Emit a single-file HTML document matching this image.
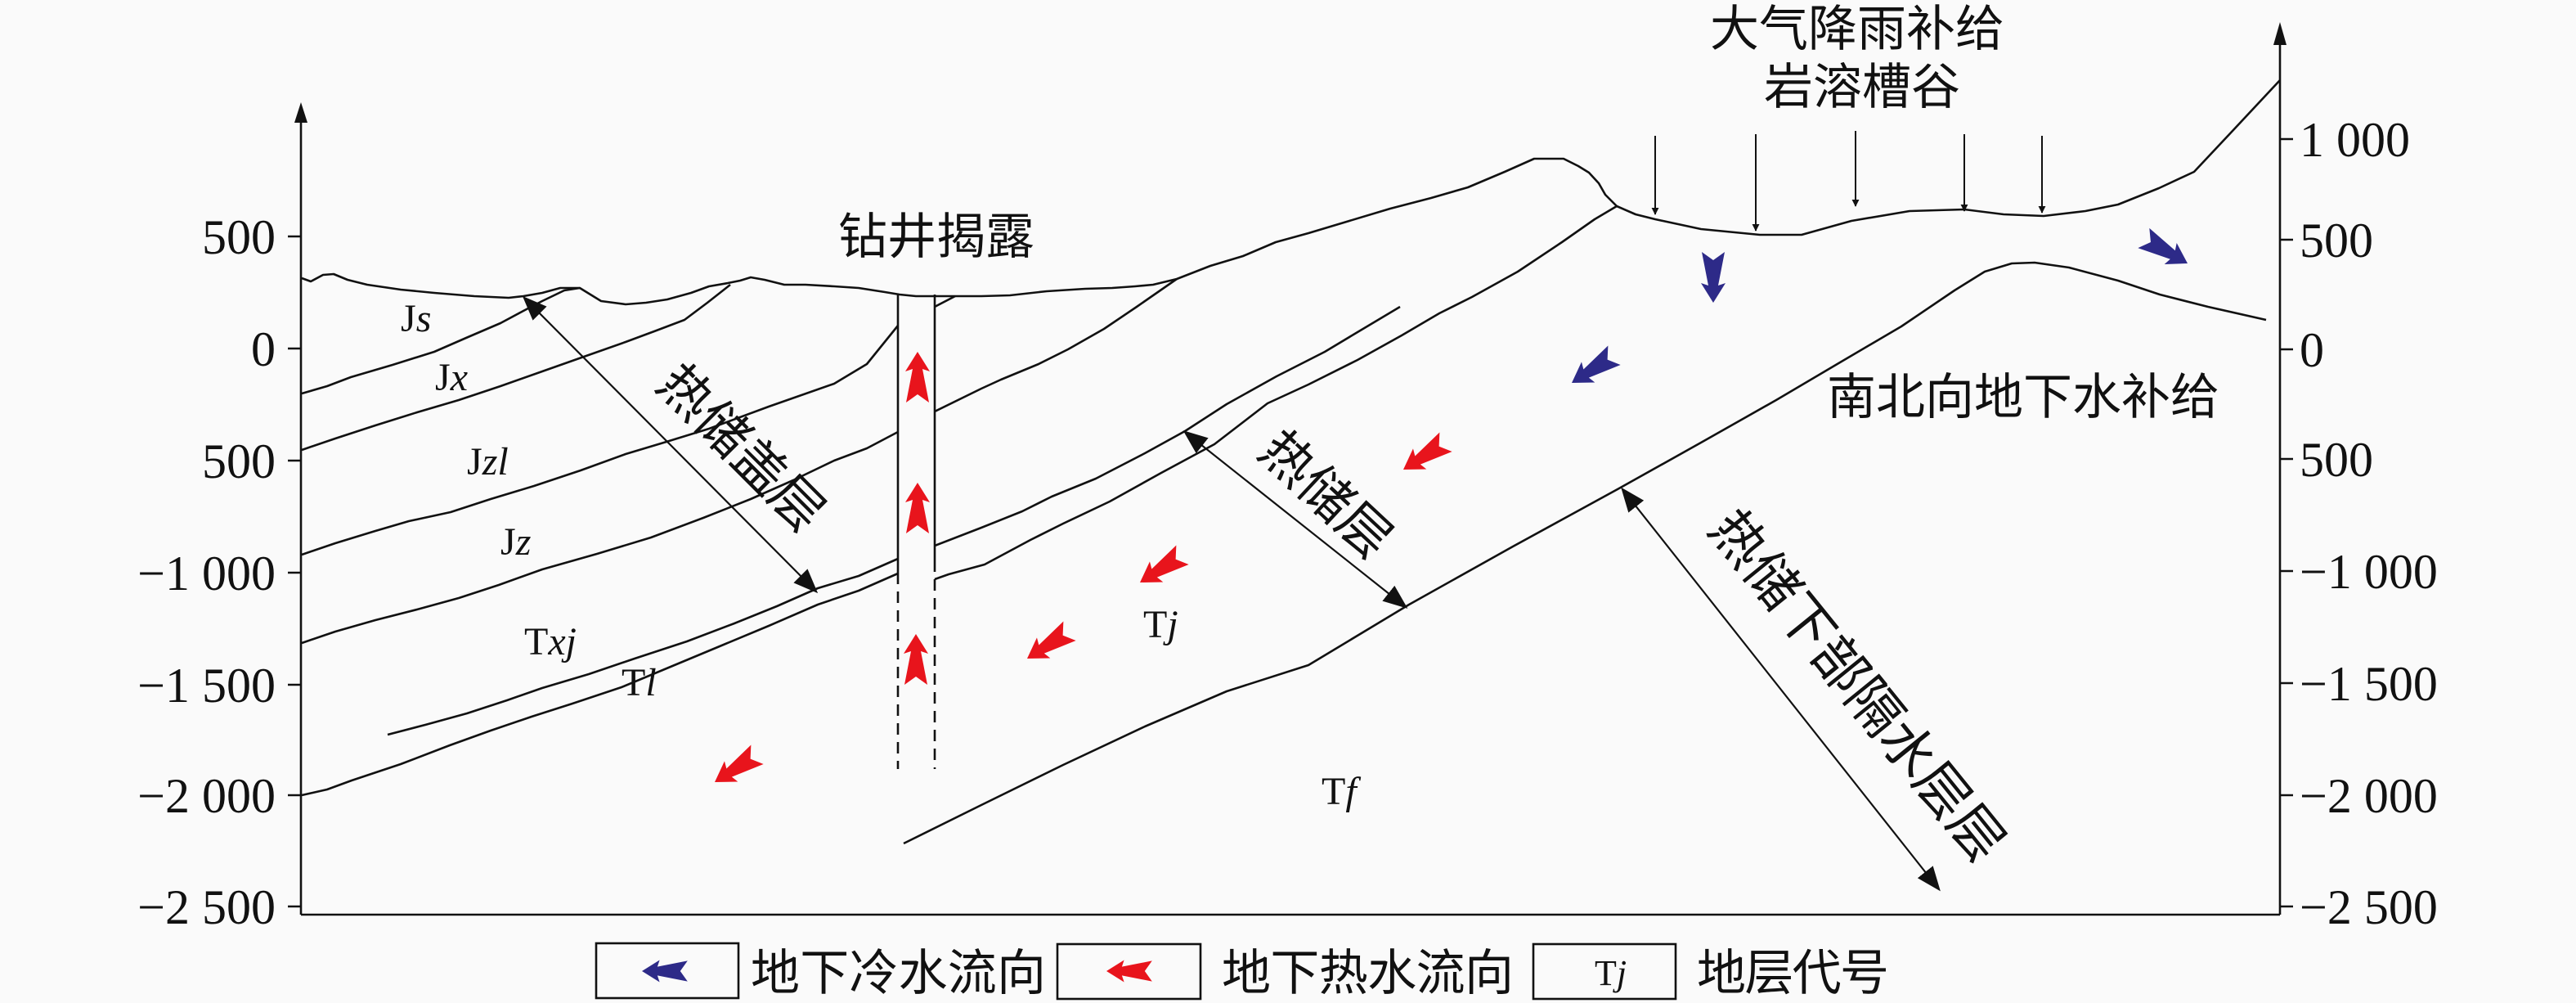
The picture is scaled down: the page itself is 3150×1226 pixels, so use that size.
<!DOCTYPE html>
<html><head><meta charset="utf-8"><style>
html,body{margin:0;padding:0;background:#fafafa;}
svg{display:block;}
.t{font-family:"Liberation Serif","Noto Serif CJK SC",serif;fill:#111;}
.c{font-family:"Liberation Sans","Noto Sans CJK SC",sans-serif;fill:#111;}
</style></head><body>
<svg width="3150" height="1226" viewBox="0 0 3150 1226" xmlns="http://www.w3.org/2000/svg">
<defs>
<marker id="ah" viewBox="0 0 10 10" refX="9" refY="5" markerWidth="9" markerHeight="9" orient="auto-start-reverse" markerUnits="userSpaceOnUse">
<path d="M0,0 L10,5 L0,10 z" fill="#111"/></marker>
<marker id="bh" viewBox="0 0 10 10" refX="9" refY="5" markerWidth="30" markerHeight="30" orient="auto-start-reverse" markerUnits="userSpaceOnUse">
<path d="M0,1 L10,5 L0,9 z" fill="#111"/></marker>
<g id="arr"><polygon points="0,0 24,-15 21,-6 62,-14 52,0 62,14 21,6 24,15"/></g>
</defs>
<rect width="3150" height="1226" fill="#fafafa"/>
<g fill="none" stroke="#111" stroke-width="2.6" stroke-linejoin="round">
<line x1="368" y1="150" x2="368" y2="1118"/>
<polygon points="368,125 360,150 376,150" fill="#111" stroke="none"/>
<line x1="368" y1="1118" x2="2788" y2="1118"/>
<line x1="2788" y1="55" x2="2788" y2="1118"/>
<polygon points="2788,27 2780,55 2796,55" fill="#111" stroke="none"/>
<path d="M352,289H368M352,426H368M352,563H368M352,700H368M352,837H368M352,972H368M352,1108H368"/>
<path d="M2788,170H2804M2788,293H2804M2788,427H2804M2788,561H2804M2788,698H2804M2788,835H2804M2788,972H2804M2788,1108H2804"/>
<!-- topography -->
<polyline points="369,340 380,344 395,336 408,335 425,342 449,348 490,354 531,358 580,362 622,364 640,362 663,358 685,352 709,352 722,360 735,368 765,372 790,370 816,366 845,358 867,350 890,346 905,343 918,339 935,342 959,348 985,348 1020,350 1050,352 1082,357 1100,360 1120,362 1163,362 1200,362 1235,361 1280,356 1327,353 1360,352 1388,350 1410,348 1439,341 1480,325 1520,313 1560,296 1600,285 1650,270 1700,255 1750,242 1795,229 1840,210 1876,194 1912,194 1930,203 1943,211 1955,224 1963,238 1977,252 2000,262 2024,268 2080,280 2152,287 2203,287 2264,270 2335,258 2402,256 2450,262 2499,264 2550,258 2590,250 2640,230 2683,210 2730,160 2788,98"/>
<!-- layer boundaries -->
<polyline points="369,481 400,472 429,461 480,446 531,430 570,413 612,395 640,380 663,368 690,355 709,352"/>
<polyline points="369,550 410,536 459,520 510,504 561,489 612,472 663,454 714,436 765,418 800,405 837,391 865,370 893,348"/>
<path d="M369,678 L410,664 459,649 500,637 551,626 600,610 653,594 710,575 765,555 815,540 867,524 940,497 1020,469 1060,445 1098,398 M1143,375 L1168,362"/>
<path d="M369,786 L410,772 459,758 510,745 561,731 610,715 663,696 730,677 796,657 860,633 918,610 970,587 1020,563 1060,548 1098,528 M1143,503 L1200,475 1224,464 1270,445 1306,427 1350,402 1390,375 1439,341"/>
<path d="M474,898 L520,886 571,872 620,856 663,841 720,824 776,805 840,784 898,762 950,741 1000,719 1050,704 1098,683 M1143,667 L1200,645 1250,625 1286,607 1340,585 1400,554 1449,527 1500,494 1561,460 1620,430 1660,406 1712,375"/>
<path d="M369,972 L400,965 430,954 490,934 550,911 600,893 650,876 700,860 760,840 820,815 880,790 940,765 1000,739 1050,722 1098,701 M1143,708 L1160,702 1204,690 1260,660 1300,640 1357,613 1420,578 1485,543 1550,493 1600,470 1660,440 1714,410 1760,383 1800,363 1856,332 1910,296 1950,268 1977,252"/>
<polyline points="1105,1031 1200,984 1300,935 1400,888 1500,845 1600,813 1723,739 1850,668 1978,598 2080,541 2172,489 2250,443 2325,399 2390,355 2427,332 2460,322 2488,321 2530,327 2590,343 2641,360 2700,375 2771,391"/>
<!-- well -->
<path d="M1098,360V700M1143,360V685"/>
<path d="M1098,700V940M1143,685V940" stroke-dasharray="14,9"/>
<g stroke-width="2" marker-end="url(#ah)">
<line x1="2024" y1="166" x2="2024" y2="262"/>
<line x1="2147" y1="164" x2="2147" y2="282"/>
<line x1="2269" y1="160" x2="2269" y2="252"/>
<line x1="2402" y1="164" x2="2402" y2="258"/>
<line x1="2497" y1="166" x2="2497" y2="260"/>
</g>
<g stroke-width="2.2" marker-start="url(#bh)" marker-end="url(#bh)">
<line x1="641" y1="364" x2="998" y2="723"/>
<line x1="1449" y1="528" x2="1719" y2="742"/>
<line x1="1984" y1="598" x2="2371" y2="1087"/>
</g>
</g>
<g fill="#e8141c">
<use href="#arr" transform="translate(1122,430) rotate(90)"/>
<use href="#arr" transform="translate(1122,590) rotate(90)"/>
<use href="#arr" transform="translate(1120,775) rotate(90)"/>
<use href="#arr" transform="translate(1716,574) rotate(-33)"/>
<use href="#arr" transform="translate(1394,712) rotate(-33)"/>
<use href="#arr" transform="translate(1256,805) rotate(-33)"/>
<use href="#arr" transform="translate(874,956) rotate(-33)"/>
</g>
<g fill="#2d2a88">
<use href="#arr" transform="translate(2095,370) rotate(-90)"/>
<use href="#arr" transform="translate(1922,468) rotate(-33)"/>
<use href="#arr" transform="translate(2675,322) rotate(-150)"/>
</g>
<g class="t" font-size="60" text-anchor="end">
<text x="337" y="310">500</text><text x="337" y="447">0</text><text x="337" y="584">500</text>
<text x="337" y="721">−1 000</text><text x="337" y="858">−1 500</text><text x="337" y="993">−2 000</text><text x="337" y="1129">−2 500</text>
</g>
<g class="t" font-size="60">
<text x="2812" y="191">1 000</text><text x="2812" y="314">500</text><text x="2812" y="448">0</text><text x="2812" y="582">500</text>
<text x="2812" y="719">−1 000</text><text x="2812" y="856">−1 500</text><text x="2812" y="993">−2 000</text><text x="2812" y="1129">−2 500</text>
</g>
<g class="t" font-size="48">
<text x="490" y="405">J<tspan font-style="italic">s</tspan></text>
<text x="532" y="477">J<tspan font-style="italic">x</tspan></text>
<text x="571" y="580">J<tspan font-style="italic">zl</tspan></text>
<text x="612" y="678">J<tspan font-style="italic">z</tspan></text>
<text x="641" y="800">T<tspan font-style="italic">xj</tspan></text>
<text x="760" y="850">T<tspan font-style="italic">l</tspan></text>
<text x="1398" y="779">T<tspan font-style="italic">j</tspan></text>
<text x="1616" y="983">T<tspan font-style="italic">f</tspan></text>
</g>
<g class="c" font-size="60">
<text x="1025" y="310">钻井揭露</text>
<text x="2091" y="56">大气降雨补给</text>
<text x="2157" y="127">岩溶槽谷</text>
<text x="2234" y="506">南北向地下水补给</text>
<text transform="translate(905,549) rotate(45)" text-anchor="middle" dy="20" font-size="64">热储盖层</text>
<text transform="translate(1620,606) rotate(43)" text-anchor="middle" dy="20" font-size="64">热储层</text>
<text transform="translate(2269,840) rotate(51)" text-anchor="middle" dy="20" font-size="66">热储下部隔水层层</text>
</g>
<g fill="none" stroke="#111" stroke-width="2.6">
<rect x="729" y="1153" width="174" height="67"/>
<rect x="1293" y="1154" width="175" height="67"/>
<rect x="1875" y="1154" width="174" height="67"/>
</g>
<use href="#arr" fill="#2d2a88" transform="translate(785,1187) scale(0.9)"/>
<use href="#arr" fill="#e8141c" transform="translate(1353,1187) scale(0.9)"/>
<text class="t" x="1950" y="1204" font-size="44">T<tspan font-style="italic">j</tspan></text>
<g class="c" font-size="60">
<text x="918" y="1210" textLength="361">地下冷水流向</text>
<text x="1494" y="1210" textLength="357">地下热水流向</text>
<text x="2075" y="1210" textLength="235">地层代号</text>
</g>
</svg>
</body></html>
